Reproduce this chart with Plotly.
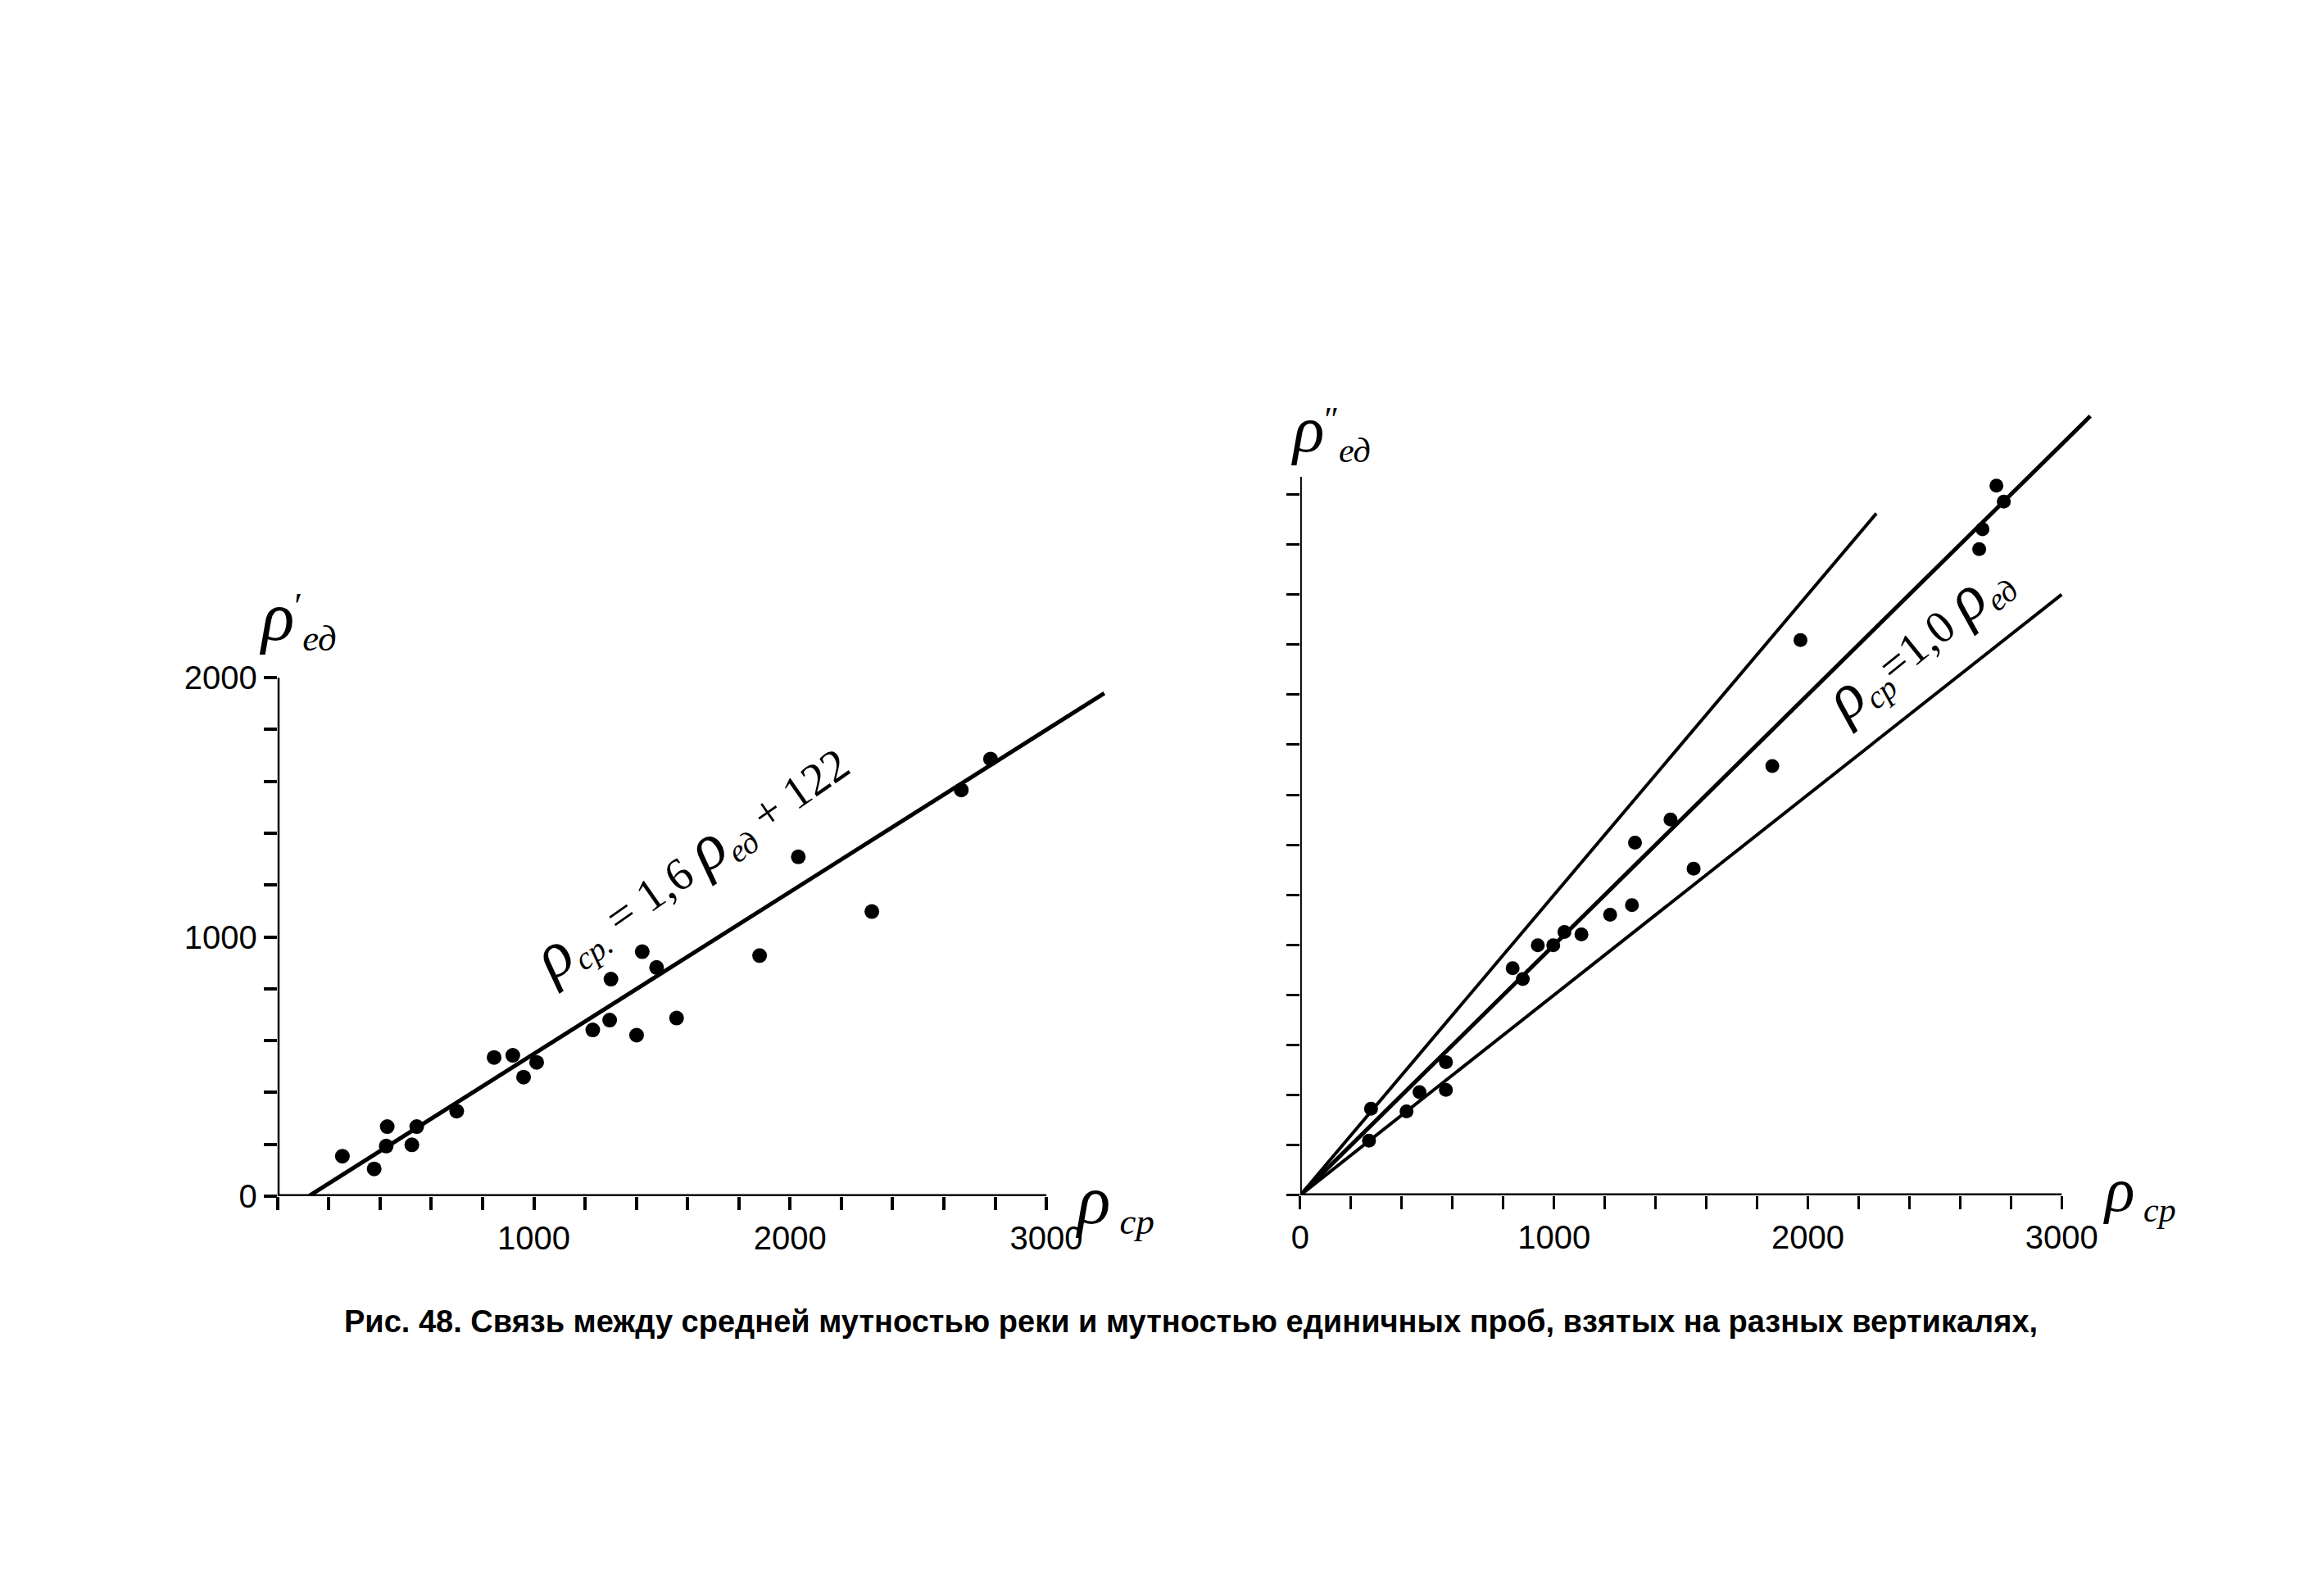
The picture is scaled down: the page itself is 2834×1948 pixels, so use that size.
import plotly.graph_objects as go

W, H = 2834, 1948

# ---------------- data ----------------
# Left panel: rho'_ed vs rho_cp
left_x = [253, 377, 428, 424, 524, 543, 699, 845, 918, 960, 1011, 1230, 1296,
          1301, 1401, 1423, 1479, 1557, 1881, 2032, 2319, 2668, 2782]
left_y = [154, 105, 268, 193, 198, 268, 328, 535, 543, 459, 516, 641, 679,
          837, 621, 943, 882, 687, 928, 1309, 1098, 1567, 1686]
# regression: rho_cp = 1.6 * rho_ed + 122
left_slope = 1.6
left_intercept = 122
left_line_y = [0, 1940]

left_xticks_minor = list(range(0, 3001, 200))
left_xticks = [1000, 2000, 3000]
left_yticks_minor = list(range(0, 2001, 200))
left_yticks = [0, 1000, 2000]

# Right panel: rho''_ed vs rho_cp
right_x = [279, 271, 419, 470, 574, 574, 837, 877, 936, 997, 1041, 1108, 1221,
           1307, 1319, 1459, 1550, 1860, 1971, 2675, 2688, 2743, 2772]
right_y = [346, 218, 335, 412, 532, 421, 907, 864, 999, 999, 1052, 1042, 1121,
           1159, 1409, 1501, 1305, 1715, 2218, 2581, 2661, 2835, 2771]
right_slopes = [1.2, 1.0, 0.8]
right_line_xmax = [2270, 3113, 3000]

right_xticks_minor = list(range(0, 3001, 200))
right_xticks = [0, 1000, 2000, 3000]
right_yticks = list(range(0, 2801, 200))

caption = ("Рис. 48. Связь между средней мутностью реки и мутностью единичных проб, "
           "взятых на разных вертикалях,")

# ---------------- helpers ----------------
def px(x):
    return x / W

def py(y):
    return (H - y) / H

TICKFONT = dict(family="Liberation Sans, Arial, sans-serif", size=40, color="black")
SERIF = "Liberation Serif, DejaVu Serif, serif"

def big(ch, size):
    return "<span style='font-size:%dpx'><i>%s</i></span>" % (size, ch)

fig = go.Figure()

# Left points + regression line
fig.add_trace(go.Scatter(x=left_x, y=left_y, mode="markers",
                         marker=dict(color="black", size=18),
                         xaxis="x", yaxis="y", hoverinfo="skip"))
fig.add_trace(go.Scatter(x=[left_slope * v + left_intercept for v in left_line_y],
                         y=left_line_y, mode="lines",
                         line=dict(color="black", width=5),
                         xaxis="x", yaxis="y", hoverinfo="skip"))

# Right points + lines
fig.add_trace(go.Scatter(x=right_x, y=right_y, mode="markers",
                         marker=dict(color="black", size=17),
                         xaxis="x2", yaxis="y2", hoverinfo="skip"))
for s, xm in zip(right_slopes, right_line_xmax):
    fig.add_trace(go.Scatter(x=[0, xm], y=[0, s * xm], mode="lines",
                             line=dict(color="black", width=5 if s == 1.0 else 4),
                             xaxis="x2", yaxis="y2", hoverinfo="skip"))

# ---------------- axes ----------------
L_XR, L_YR = 3350, 2050
R_XR, R_YR = 3200, 3200
common = dict(showgrid=False, zeroline=False, showline=False, ticks="outside",
              tickcolor="black", tickfont=TICKFONT, tickmode="array")

def minor(vals, width):
    return dict(tickmode="array", tickvals=vals, ticks="outside", ticklen=16,
                tickwidth=width, tickcolor="black", showgrid=False)

fig.update_layout(
    width=W, height=H, margin=dict(l=0, r=0, t=0, b=0),
    paper_bgcolor="white", plot_bgcolor="white", showlegend=False,
    xaxis=dict(domain=[px(321), px(321 + L_XR * 0.314)], range=[0, L_XR],
               tickvals=left_xticks, ticklen=16, tickwidth=4, anchor="y",
               minor=minor(left_xticks_minor, 4), **common),
    yaxis=dict(domain=[py(1467), py(1467 - L_YR * 0.321)], range=[0, L_YR],
               tickvals=left_yticks, ticklen=16, tickwidth=4, anchor="x",
               minor=minor(left_yticks_minor, 4), **common),
    xaxis2=dict(domain=[px(1574), px(1574 + R_XR * 0.311)], range=[0, R_XR],
                tickvals=right_xticks, ticklen=16, tickwidth=3, anchor="y2",
                minor=minor(right_xticks_minor, 3), **common),
    yaxis2=dict(domain=[py(1466), py(1466 - R_YR * 0.31)], range=[0, R_YR],
                tickvals=right_yticks, showticklabels=False,
                ticklen=16, tickwidth=3, anchor="x2", **common),
)

# axis lines
fig.add_shape(type="line", xref="x", yref="y", x0=0, y0=0, x1=3000, y1=0,
              line=dict(color="black", width=5))
fig.add_shape(type="line", xref="x", yref="y", x0=0, y0=0, x1=0, y1=2000,
              line=dict(color="black", width=5))
fig.add_shape(type="line", xref="x2", yref="y2", x0=0, y0=0, x1=3000, y1=0,
              line=dict(color="black", width=5))
fig.add_shape(type="line", xref="x2", yref="y2", x0=0, y0=0, x1=0, y1=2870,
              line=dict(color="black", width=4))

# ---------------- labels ----------------
def label(text, x, y, size, xanchor="left", yanchor="middle"):
    fig.add_annotation(text=text, xref="paper", yref="paper", x=px(x), y=py(y),
                       xanchor=xanchor, yanchor=yanchor, showarrow=False,
                       font=dict(family=SERIF, size=size, color="black"))

label(big("ρ", 84) + "<sup>′</sup><sub><i>ед</i></sub>", 296, 752, 64)
label(big("ρ", 84) + "<sub><i>\u00a0ср</i></sub>", 1296, 1474, 64)
label(big("ρ", 80) + "<sup>″</sup><sub><i>ед</i></sub>", 1560, 520, 60)
label(big("ρ", 76) + "<sub><i>\u00a0ср</i></sub>", 2556, 1462, 60)

# regression equations
fig.add_annotation(text=big("ρ", 80) + "<sub><i>ср.</i></sub> = 1,6 " + big("ρ", 80)
                   + "<sub><i>ед</i></sub> + 122",
                   xref="x", yref="y", x=1610, y=1295, textangle=-35,
                   showarrow=False, font=dict(family=SERIF, size=56, color="black"))
fig.add_annotation(text=big("ρ", 78) + "<sub><i>ср</i></sub>=1,0 " + big("ρ", 78)
                   + "<sub><i>ед</i></sub>",
                   xref="x2", yref="y2", x=2430, y=2220, textangle=-39,
                   showarrow=False, font=dict(family=SERIF, size=56, color="black"))

# caption
fig.add_annotation(text="<b>" + caption + "</b>", xref="paper", yref="paper",
                   x=px(1440), y=py(1622), xanchor="center", yanchor="middle",
                   showarrow=False,
                   font=dict(family="Liberation Sans Narrow, Liberation Sans, sans-serif",
                             size=38, color="black"))

fig.write_html("out.html")
